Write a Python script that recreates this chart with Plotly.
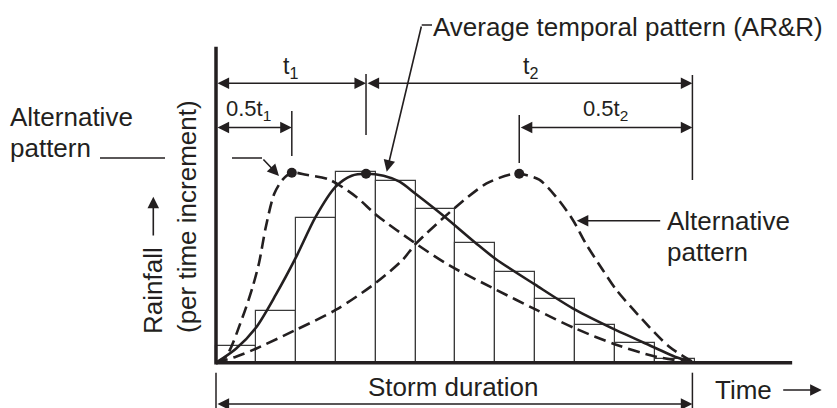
import plotly.graph_objects as go

# ---------------- data (time in increments, rainfall in arbitrary units) ----------------
bar_t = [0.5, 1.5, 2.5, 3.5, 4.5, 5.5, 6.5, 7.5, 8.5, 9.5, 10.5, 11.5]
bar_v = [17, 52, 145, 191, 182, 154, 120, 91, 64, 38, 20, 4]

avg_t = [0, 0.5, 1.0, 1.5, 2.0, 2.5, 3.0, 3.4, 3.76, 4.2, 4.6, 5.0, 5.7, 6.5, 7.0,
         8.0, 9.0, 10.0, 11.0, 11.5, 11.98]
avg_v = [0, 14, 35, 68, 105, 146, 176, 187, 189, 187, 181, 169, 147, 120, 104, 78, 53, 33, 15, 6, 0]

early_t = [0, 0.25, 0.67, 0.92, 1.08, 1.25, 1.46, 1.67, 1.90, 2.26, 2.84, 3.51, 4.01, 5.01,
           5.86, 7.02, 8.02, 9.02, 10.03, 11.03, 11.98]
early_v = [0, 6, 46, 76, 100, 136, 169, 183, 190, 188, 183, 166, 148, 119, 97, 73, 53, 34, 18, 6, 0]

late_t = [0, 0.50, 1.00, 2.01, 3.01, 4.01, 4.68, 5.01, 6.02, 6.77, 7.35, 7.60, 8.10, 8.52,
          8.94, 9.27, 9.69, 10.03, 10.69, 11.36, 11.98]
late_v = [0, 6, 14, 33, 53, 80, 103, 119, 156, 179, 188, 189, 183, 166, 143, 119, 93, 73, 43, 16, 0]

peak_t = [1.90, 3.76, 7.60]
peak_v = [190, 189, 189]

t1_end = 3.76        # end of t1 (peak of average pattern)
storm_end = 11.94    # end of storm duration
axis_top = 316
axis_right = 14.44

# ---------------- layout helpers (pixel -> data) ----------------
X0, UNIT, Y0 = 216, 39.9, 362.7
def X(px):
    return (px - X0) / UNIT
def Y(py):
    return Y0 - py

INK = "#231f20"
FONT = "Liberation Sans, Arial, Helvetica, sans-serif"
NARROW = "Liberation Sans Narrow, Arial Narrow, Liberation Sans, sans-serif"

fig = go.Figure()
fig.add_bar(x=bar_t, y=bar_v, width=1,
            marker=dict(color="white", line=dict(color="#3a3a3a", width=1.2)),
            hoverinfo="skip")
dash = "12px,6px"
fig.add_scatter(x=early_t, y=early_v, mode="lines",
                line=dict(color=INK, width=2.6, dash=dash, shape="spline", smoothing=0.8))
fig.add_scatter(x=late_t, y=late_v, mode="lines",
                line=dict(color=INK, width=2.6, dash=dash, shape="spline", smoothing=0.8))
fig.add_scatter(x=avg_t, y=avg_v, mode="lines",
                line=dict(color=INK, width=2.6, shape="spline", smoothing=0.8))
fig.add_scatter(x=peak_t, y=peak_v, mode="markers",
                marker=dict(color=INK, size=10))

shapes = []
def seg(x0, y0, x1, y1, w=1.5):
    shapes.append(dict(type="line", xref="x", yref="y", x0=x0, y0=y0, x1=x1, y1=y1,
                       line=dict(color=INK, width=w), layer="above"))

# axes
seg(0, Y(364.5), 0, axis_top, 3.5)
seg(0, 0, axis_right, 0, 3.5)
# dimension ticks
seg(t1_end, Y(74), t1_end, Y(135))
seg(storm_end, Y(75), storm_end, Y(180))
seg(peak_t[0], Y(111), peak_t[0], Y(156))
seg(peak_t[2], Y(115), peak_t[2], Y(163))
seg(0, Y(372.7), 0, Y(410))
seg(storm_end, Y(372.7), storm_end, Y(410))
# left label underline and leader
seg(X(100), Y(158), X(165), Y(158))
seg(X(232), Y(158), X(262), Y(158))
seg(X(421.7), Y(25), X(432), Y(25))

anns = []
def arrow(x, y, ax, ay, both=False):
    anns.append(dict(x=x, y=y, ax=ax, ay=ay, xref="x", yref="y", axref="x", ayref="y",
                     text="", showarrow=True, arrowhead=2, arrowsize=1.45, arrowwidth=1.6,
                     arrowcolor=INK, arrowside="end+start" if both else "end",
                     standoff=0, startstandoff=0, font=dict(size=1)))

def label(text, x, y, size=26, font=FONT, xanchor="center", angle=0, align="center"):
    anns.append(dict(x=x, y=y, xref="x", yref="y", text=text, showarrow=False,
                     xanchor=xanchor, yanchor="middle", textangle=angle, align=align,
                     font=dict(family=font, size=size, color=INK)))

# dimension arrows
arrow(t1_end, Y(83.3), 0, Y(83.3), both=True)
arrow(storm_end, Y(83.3), t1_end, Y(83.3), both=True)
arrow(peak_t[0], Y(127.5), 0, Y(127.5), both=True)
arrow(storm_end, Y(127.5), peak_t[2], Y(127.5), both=True)
arrow(storm_end, Y(404), 0, Y(404), both=True)
# leaders
arrow(X(386.7), Y(171.7), X(421.7), Y(25))
arrow(X(279), Y(176), X(262), Y(158))
arrow(X(576.7), Y(220.7), X(661.7), Y(220.7))
arrow(X(821.7), Y(390), X(781.7), Y(390))
arrow(X(153.3), Y(196.7), X(153.3), Y(237))

# labels
label("t<sub>1</sub>", X(290), Y(67), size=23, font=NARROW)
label("t<sub>2</sub>", X(530), Y(67), size=23, font=NARROW)
label("0.5t<sub>1</sub>", X(248), Y(110), size=22, font=NARROW)
label("0.5t<sub>2</sub>", X(605), Y(110), size=22, font=NARROW)
label("Average temporal pattern (AR&amp;R)", X(431), Y(27), xanchor="left")
label("Alternative", X(8), Y(117), xanchor="left")
label("pattern", X(8), Y(148), xanchor="left")
label("Alternative", X(665), Y(221), xanchor="left")
label("pattern", X(665), Y(252), xanchor="left")
label("Storm duration", X(453), Y(387))
label("Time", X(713), Y(390), xanchor="left")
label("Rainfall", X(153), Y(291), angle=-90)
label("(per time increment)", X(187), Y(217), angle=-90)

fig.update_layout(
    width=837, height=408, margin=dict(l=0, r=0, t=0, b=0),
    paper_bgcolor="white", plot_bgcolor="white", showlegend=False,
    bargap=0,
    xaxis=dict(range=[X(0), X(837)], visible=False, fixedrange=True),
    yaxis=dict(range=[Y(408), Y(0)], visible=False, fixedrange=True),
    shapes=shapes, annotations=anns,
)
fig.write_html("out.html", config={"displayModeBar": False},
               post_script="document.body.style.margin='0';document.body.style.overflow='hidden';")
